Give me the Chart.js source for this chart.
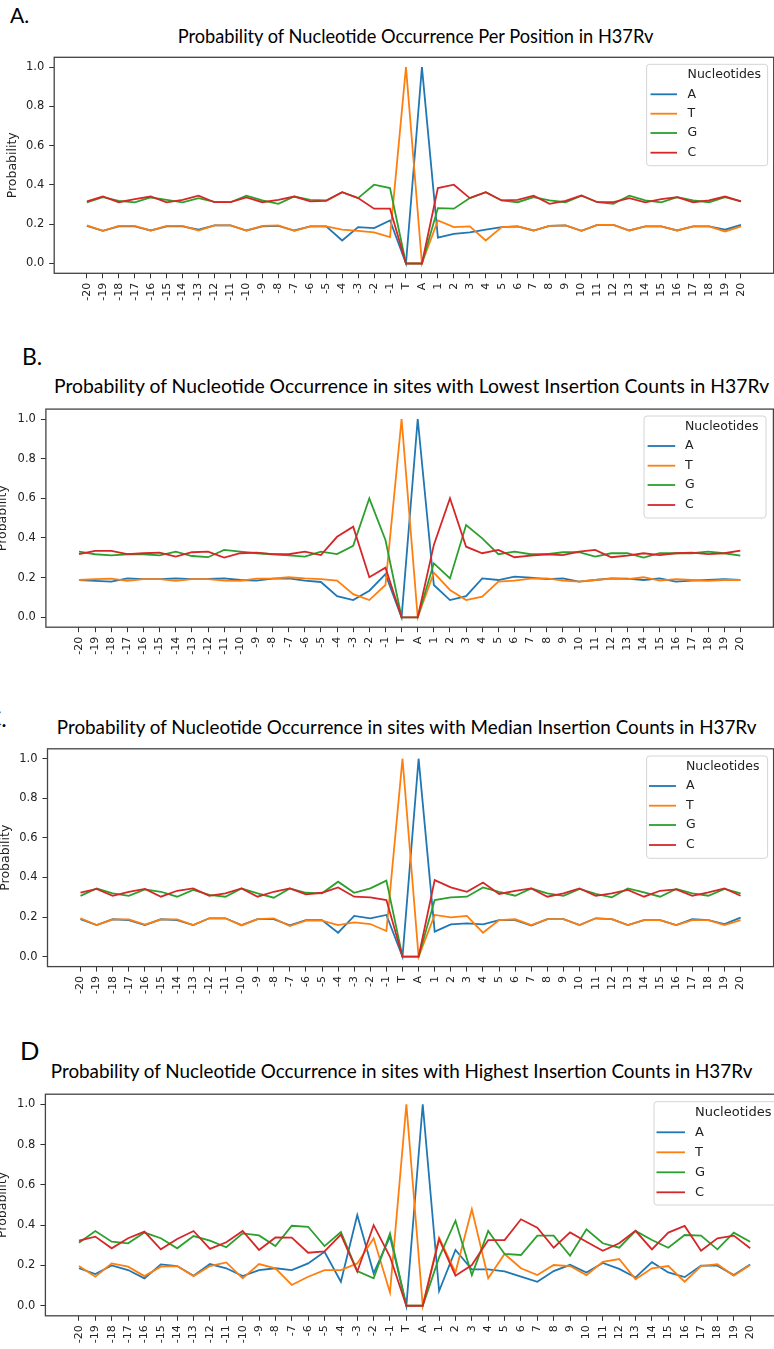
<!DOCTYPE html>
<html>
<head>
<meta charset="utf-8">
<script src="https://cdn.jsdelivr.net/npm/chart.js@4.4.1/dist/chart.umd.min.js"></script>
<style>
  html, body { margin: 0; padding: 0; background: #fff; width: 774px; height: 1349px; overflow: hidden; position: relative; }
  canvas { position: absolute; }
  .txt { position: absolute; white-space: nowrap; font-family: Lato, "Open Sans", sans-serif; color: #000; line-height: 1; }
</style>
</head>
<body>
<script>
// Positions around the TA insertion site
const positions = ['-20','-19','-18','-17','-16','-15','-14','-13','-12','-11','-10','-9','-8','-7','-6','-5','-4','-3','-2','-1',
                   'T','A',
                   '1','2','3','4','5','6','7','8','9','10','11','12','13','14','15','16','17','18','19','20'];
const nucleotides = ['A', 'T', 'G', 'C'];
const yTickValues = [0, 0.2, 0.4, 0.6, 0.8, 1.0];

// A. all TA sites
const allSitesA = [0.192,0.166,0.189,0.189,0.168,0.189,0.189,0.172,0.194,0.194,0.168,0.189,0.192,0.168,0.189,0.189,0.117,0.185,0.180,0.219,
                   0.000,1.000,
                   0.132,0.151,0.158,0.172,0.185,0.189,0.168,0.192,0.194,0.166,0.197,0.197,0.168,0.189,0.189,0.168,0.189,0.189,0.172,0.197];
const allSitesT = [0.194,0.166,0.192,0.192,0.168,0.192,0.192,0.168,0.194,0.194,0.168,0.192,0.194,0.166,0.189,0.189,0.172,0.166,0.158,0.134,
                   1.000,0.000,
                   0.219,0.185,0.189,0.117,0.185,0.189,0.168,0.192,0.194,0.166,0.197,0.197,0.168,0.189,0.189,0.168,0.189,0.189,0.163,0.189];
const allSitesG = [0.311,0.338,0.319,0.311,0.336,0.324,0.311,0.333,0.314,0.312,0.345,0.321,0.304,0.341,0.324,0.321,0.363,0.333,0.401,0.384,
                   0.000,0.000,
                   0.282,0.279,0.333,0.363,0.321,0.312,0.338,0.321,0.312,0.345,0.312,0.304,0.345,0.321,0.311,0.338,0.321,0.312,0.338,0.316];
const allSitesC = [0.316,0.341,0.312,0.328,0.341,0.311,0.324,0.345,0.312,0.312,0.336,0.312,0.324,0.341,0.316,0.319,0.363,0.333,0.279,0.279,
                   0.000,0.000,
                   0.384,0.401,0.333,0.363,0.321,0.324,0.345,0.304,0.319,0.346,0.312,0.312,0.333,0.311,0.328,0.338,0.312,0.321,0.341,0.316];

// B. sites with the lowest insertion counts
const lowestSitesA = [0.188,0.184,0.180,0.196,0.192,0.192,0.196,0.192,0.193,0.196,0.188,0.185,0.195,0.196,0.185,0.178,0.107,0.087,0.134,0.218,
                      0.000,1.000,
                      0.163,0.087,0.107,0.196,0.188,0.205,0.200,0.192,0.196,0.180,0.188,0.196,0.195,0.188,0.196,0.180,0.185,0.188,0.192,0.188];
const lowestSitesT = [0.188,0.192,0.195,0.184,0.192,0.192,0.184,0.192,0.192,0.185,0.184,0.195,0.195,0.202,0.196,0.192,0.185,0.117,0.087,0.163,
                      1.000,0.000,
                      0.225,0.138,0.087,0.104,0.180,0.185,0.195,0.196,0.185,0.180,0.188,0.195,0.192,0.202,0.185,0.192,0.188,0.184,0.188,0.188];
const lowestSitesG = [0.331,0.318,0.312,0.318,0.318,0.312,0.331,0.309,0.303,0.340,0.331,0.323,0.318,0.312,0.306,0.331,0.319,0.360,0.600,0.390,
                      0.000,0.000,
                      0.272,0.196,0.465,0.398,0.318,0.331,0.318,0.318,0.328,0.328,0.306,0.323,0.323,0.301,0.323,0.323,0.323,0.331,0.323,0.311];
const lowestSitesC = [0.318,0.335,0.335,0.319,0.323,0.326,0.306,0.328,0.331,0.301,0.323,0.326,0.319,0.318,0.331,0.314,0.406,0.457,0.202,0.250,
                      0.000,0.000,
                      0.365,0.600,0.356,0.323,0.340,0.303,0.311,0.318,0.314,0.331,0.340,0.303,0.311,0.323,0.314,0.323,0.326,0.319,0.323,0.336];

// C. sites with median insertion counts
const medianSitesA = [0.190,0.160,0.189,0.185,0.160,0.189,0.185,0.160,0.194,0.194,0.160,0.190,0.190,0.158,0.185,0.185,0.121,0.206,0.194,0.211,
                      0.000,1.000,
                      0.127,0.163,0.168,0.163,0.185,0.185,0.157,0.190,0.190,0.160,0.194,0.190,0.160,0.185,0.185,0.160,0.189,0.185,0.165,0.197];
const medianSitesT = [0.194,0.160,0.189,0.189,0.162,0.189,0.189,0.160,0.194,0.194,0.158,0.190,0.194,0.155,0.182,0.182,0.160,0.173,0.165,0.130,
                      1.000,0.000,
                      0.211,0.199,0.206,0.121,0.185,0.189,0.160,0.190,0.190,0.160,0.194,0.190,0.160,0.185,0.185,0.160,0.185,0.185,0.160,0.185];
const medianSitesG = [0.307,0.345,0.320,0.307,0.340,0.328,0.303,0.337,0.312,0.303,0.345,0.320,0.298,0.345,0.323,0.320,0.379,0.323,0.345,0.384,
                      0.000,0.000,
                      0.286,0.300,0.303,0.350,0.328,0.308,0.345,0.320,0.307,0.342,0.317,0.300,0.345,0.325,0.303,0.342,0.320,0.308,0.342,0.320];
const medianSitesC = [0.323,0.342,0.307,0.328,0.342,0.303,0.333,0.345,0.307,0.320,0.345,0.303,0.328,0.345,0.315,0.323,0.350,0.303,0.300,0.286,
                      0.000,0.000,
                      0.387,0.350,0.328,0.375,0.317,0.332,0.345,0.303,0.320,0.345,0.307,0.320,0.337,0.303,0.333,0.340,0.307,0.325,0.345,0.308];

// D. sites with the highest insertion counts
const highestSitesA = [0.186,0.157,0.200,0.177,0.136,0.205,0.197,0.149,0.207,0.186,0.147,0.177,0.186,0.177,0.210,0.268,0.119,0.450,0.161,0.343,
                       0.000,1.000,
                       0.073,0.277,0.180,0.180,0.170,0.144,0.119,0.172,0.203,0.165,0.212,0.183,0.140,0.216,0.165,0.142,0.199,0.199,0.152,0.205];
const highestSitesT = [0.197,0.144,0.210,0.194,0.147,0.194,0.197,0.147,0.197,0.215,0.136,0.207,0.186,0.103,0.144,0.177,0.177,0.210,0.335,0.066,
                       1.000,0.000,
                       0.338,0.166,0.479,0.136,0.257,0.186,0.152,0.202,0.197,0.152,0.218,0.232,0.131,0.186,0.197,0.119,0.197,0.206,0.149,0.202];
const highestSitesG = [0.313,0.371,0.318,0.310,0.363,0.335,0.285,0.346,0.323,0.290,0.359,0.349,0.296,0.397,0.392,0.296,0.366,0.172,0.136,0.359,
                       0.000,0.000,
                       0.240,0.422,0.152,0.371,0.257,0.252,0.348,0.348,0.248,0.379,0.310,0.288,0.371,0.326,0.288,0.351,0.348,0.280,0.363,0.318];
const highestSitesC = [0.323,0.343,0.285,0.335,0.368,0.280,0.331,0.371,0.282,0.315,0.371,0.277,0.339,0.338,0.263,0.270,0.353,0.169,0.400,0.243,
                       0.000,0.000,
                       0.330,0.149,0.202,0.326,0.326,0.429,0.387,0.288,0.364,0.318,0.273,0.310,0.372,0.280,0.363,0.396,0.273,0.335,0.348,0.285];

// ---- styling and layout ----
const lineColors = { A: '#1f77b4', T: '#ff7f0e', G: '#2ca02c', C: '#d62728' };
const CANVAS_LEFT = -20;
const CANVAS_W = 840;

const panels = [
  {
    letter: { text: 'A.', x: 10, base: 23.3, size: 21 },
    title: { text: 'Probability of Nucleotide Occurrence Per Position in H37Rv', x0: 177.7, x1: 654, base: 43.3 },
    series: { A: allSitesA, T: allSitesT, G: allSitesG, C: allSitesC },
    plot: { l: 54.2, r: 773.7, t: 57.3, b: 273.3 },
    yTitleCx: 12.3,
    key: { x: 646.6, y: 64.3, w: 121, h: 101.4, rows: [75, 94.3, 113.7, 133, 152.7], h0: 650.5, h1: 677, tx: 687.6, size: 12.5 }
  },
  {
    letter: { text: 'B.', x: 22, base: 365, size: 23 },
    title: { text: 'Probability of Nucleotide Occurrence in sites with Lowest Insertion Counts in H37Rv', x0: 54, x1: 770, base: 392.7 },
    series: { A: lowestSitesA, T: lowestSitesT, G: lowestSitesG, C: lowestSitesC },
    plot: { l: 45.9, r: 773.4, t: 409.1, b: 627.2 },
    yTitleCx: 2.7,
    key: { x: 644, y: 416, w: 122, h: 102, rows: [426.7, 446, 465.7, 485, 505], h0: 647.6, h1: 675.2, tx: 685, size: 12.5 }
  },
  {
    letter: { text: 'C.', x: -14, base: 727, size: 23 },
    title: { text: 'Probability of Nucleotide Occurrence in sites with Median Insertion Counts in H37Rv', x0: 56.8, x1: 756.7, base: 734 },
    series: { A: medianSitesA, T: medianSitesT, G: medianSitesG, C: medianSitesC },
    plot: { l: 47.5, r: 773.6, t: 748.8, b: 966.6 },
    yTitleCx: 6.2,
    key: { x: 646.6, y: 756, w: 121, h: 102.3, rows: [766.7, 786, 805.7, 825, 845], h0: 649, h1: 676, tx: 686, size: 12.5 }
  },
  {
    letter: { text: 'D', x: 20, base: 1060, size: 25.5 },
    title: { text: 'Probability of Nucleotide Occurrence in sites with Highest Insertion Counts in H37Rv', x0: 50.8, x1: null, base: 1078.3 },
    series: { A: highestSitesA, T: highestSitesT, G: highestSitesG, C: highestSitesC },
    plot: { l: 45.4, r: 783.7, t: 1094.2, b: 1315.8 },
    yTitleCx: 2.5,
    key: { x: 654, y: 1101.7, w: 123, h: 103.3, rows: [1112.3, 1132.3, 1152.3, 1172.3, 1192.3], h0: 656.5, h1: 685, tx: 695, size: 13 }
  }
];

// HTML text placed by its baseline; optionally sized to span a given width
function placeText(txt, left, baseline, size, fitWidth) {
  const el = document.createElement('div');
  el.className = 'txt';
  el.style.fontSize = size + 'px';
  const span = document.createElement('span');
  span.textContent = txt;
  const mark = document.createElement('span');
  mark.style.cssText = 'display:inline-block;width:0;height:0;vertical-align:baseline';
  el.append(span, mark);
  document.body.appendChild(el);
  if (fitWidth) {
    size = size * fitWidth / span.getBoundingClientRect().width;
    el.style.fontSize = size + 'px';
  }
  el.style.left = left + 'px';
  el.style.top = (baseline - mark.offsetTop) + 'px';
  return size;
}

// Axes frame plus the boxed key in the upper right of the plot
const frameAndKey = {
  id: 'frameAndKey',
  afterDatasetsDraw(chart, args, opts) {
    const { ctx, chartArea: a } = chart;
    const ox = opts.originX, oy = opts.originY, k = opts.key;
    ctx.save();
    ctx.strokeStyle = '#444';
    ctx.lineWidth = 1.3;
    ctx.strokeRect(a.left, a.top, a.right - a.left, a.bottom - a.top);

    ctx.beginPath();
    ctx.roundRect(k.x - ox, k.y - oy, k.w, k.h, 3);
    ctx.fillStyle = 'rgba(255,255,255,0.85)';
    ctx.fill();
    ctx.strokeStyle = '#d4d4d4';
    ctx.lineWidth = 1;
    ctx.stroke();

    ctx.font = k.size + 'px "DejaVu Sans"';
    ctx.fillStyle = '#222';
    ctx.textBaseline = 'middle';
    ctx.textAlign = 'left';
    ctx.fillText('Nucleotides', k.tx - ox, k.rows[0] - oy);
    chart.data.datasets.forEach((ds, i) => {
      const y = k.rows[i + 1] - oy;
      ctx.strokeStyle = ds.borderColor;
      ctx.lineWidth = 1.8;
      ctx.beginPath();
      ctx.moveTo(k.h0 - ox, y);
      ctx.lineTo(k.h1 - ox, y);
      ctx.stroke();
      ctx.fillStyle = '#222';
      ctx.fillText(ds.label, k.tx - ox, y);
    });
    ctx.restore();
  }
};

Chart.defaults.font.family = '"DejaVu Sans"';

let titleSize = null;
panels.forEach(p => {
  placeText(p.letter.text, p.letter.x, p.letter.base, p.letter.size, null);
  if (p.title.x1 !== null) {
    titleSize = placeText(p.title.text, p.title.x0, p.title.base, 18, p.title.x1 - p.title.x0);
  } else {
    placeText(p.title.text, p.title.x0, p.title.base, titleSize, null);
  }

  const top = Math.floor(p.plot.t) - 12;
  const height = Math.ceil(p.plot.b) - top + 46;
  const cv = document.createElement('canvas');
  cv.width = CANVAS_W;
  cv.height = height;
  cv.style.left = CANVAS_LEFT + 'px';
  cv.style.top = top + 'px';
  document.body.appendChild(cv);

  const yAxisW = p.plot.l - CANVAS_LEFT;
  const xAxisH = height - (p.plot.b - top);
  const padTop = p.plot.t - top;
  const padRight = CANVAS_W - (p.plot.r - CANVAS_LEFT);
  const yTitlePad = p.yTitleCx - CANVAS_LEFT - 7.5;

  const datasets = nucleotides.map((n, idx) => ({
    label: n,
    data: p.series[n].map((v, i) => ({ x: i, y: v })),
    borderColor: lineColors[n],
    backgroundColor: lineColors[n],
    borderWidth: 1.8,
    pointRadius: 0,
    tension: 0,
    fill: false,
    order: nucleotides.length - 1 - idx
  }));

  new Chart(cv, {
    type: 'line',
    data: { datasets },
    options: {
      responsive: false,
      animation: false,
      devicePixelRatio: 1,
      layout: { padding: { top: padTop, right: padRight, left: 0, bottom: 0 } },
      plugins: {
        legend: { display: false },
        tooltip: { enabled: false },
        frameAndKey: { key: p.key, originX: CANVAS_LEFT, originY: top }
      },
      scales: {
        x: {
          type: 'linear',
          min: -2.05,
          max: positions.length - 1 + 2.05,
          afterBuildTicks: sc => { sc.ticks = positions.map((_, i) => ({ value: i })); },
          afterFit: sc => { sc.height = xAxisH; },
          grid: { drawOnChartArea: false, drawTicks: true, tickLength: 5, tickWidth: 1, tickColor: '#333' },
          border: { display: false },
          ticks: {
            autoSkip: false, minRotation: 90, maxRotation: 90, padding: 4.5,
            color: '#222', font: { size: 11 },
            callback: v => positions[v] ?? ''
          }
        },
        y: {
          min: -0.05,
          max: 1.05,
          afterBuildTicks: sc => { sc.ticks = yTickValues.map(v => ({ value: v })); },
          afterFit: sc => { sc.width = yAxisW; },
          grid: { drawOnChartArea: false, drawTicks: true, tickLength: 5, tickWidth: 1, tickColor: '#333' },
          border: { display: false },
          ticks: { padding: 5, color: '#222', font: { size: 11.5 }, callback: v => v.toFixed(1) },
          title: {
            display: true, text: 'Probability', color: '#222',
            font: { size: 12.5 }, padding: { top: yTitlePad, bottom: 0 }
          }
        }
      }
    },
    plugins: [frameAndKey]
  });
});
</script>
</body>
</html>
